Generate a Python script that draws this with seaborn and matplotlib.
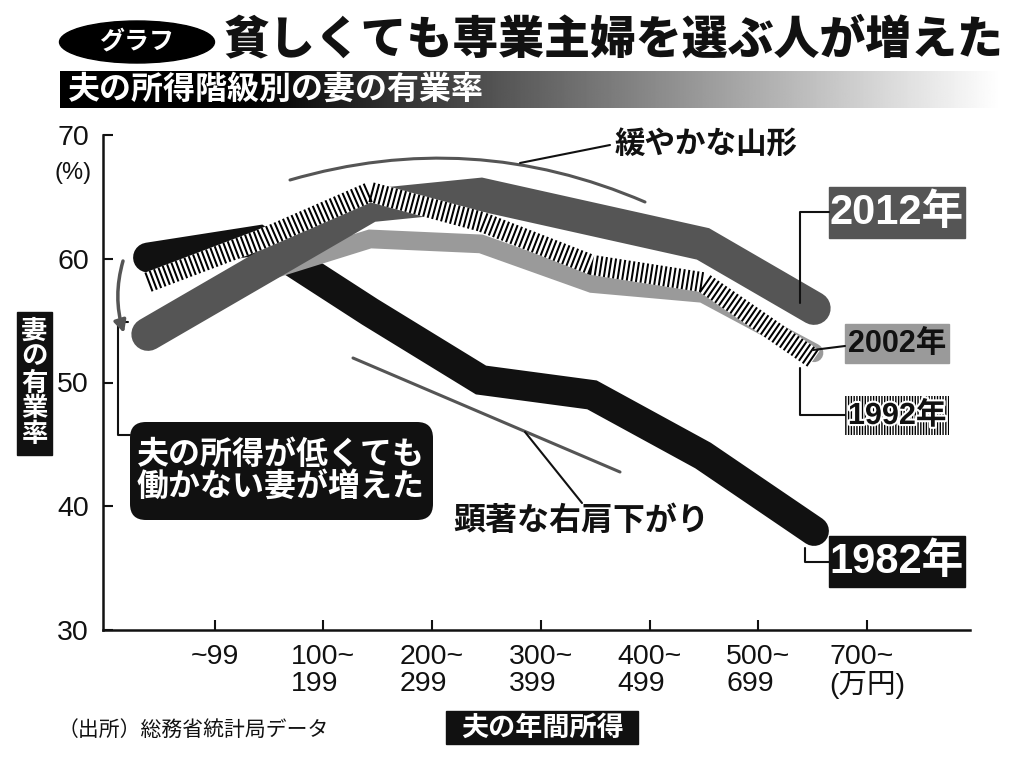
import numpy as np
import pandas as pd
import matplotlib
matplotlib.use("Agg")
import matplotlib.pyplot as plt
import matplotlib.transforms as mtransforms
from matplotlib.patches import FancyBboxPatch, Ellipse, FancyArrowPatch, Rectangle
from matplotlib.lines import Line2D
import matplotlib.patheffects as pe
import seaborn as sns

# ---------------- data ----------------
categories = ["~99", "100~\n199", "200~\n299", "300~\n399", "400~\n499", "500~\n699", "700~\n(万円)"]
y1982 = [60.1, 61.5, 55.7, 50.2, 49.0, 44.1, 38.0]
y1992 = [58.1, 61.5, 65.4, 63.0, 59.5, 58.1, 51.9]
y2002 = [54.4, 58.8, 61.6, 61.2, 58.0, 57.2, 52.4]
y2012 = [53.9, 59.1, 64.3, 65.2, 63.2, 61.2, 56.0]
years = ["1982年", "1992年", "2002年", "2012年"]
yticks = [30, 40, 50, 60, 70]

sns.set_theme(style="ticks")
plt.rcParams['font.family'] = ['Liberation Sans', 'Noto Sans CJK JP', 'DejaVu Sans']
JP = ['Noto Sans CJK JP', 'DejaVu Sans']
NARROW = ['Liberation Sans Narrow', 'Liberation Sans', 'Noto Sans CJK JP']

W, H = 1024, 760
fig = plt.figure(figsize=(W / 100, H / 100), dpi=100)
fig.patch.set_facecolor("white")
# pixel transform (image coords, y downward)
pix = mtransforms.Affine2D().scale(1 / W, -1 / H).translate(0, 1) + fig.transFigure

xs = np.arange(len(categories))
df = pd.DataFrame({
    "pos": np.tile(xs, 4),
    "rate": y1982 + y1992 + y2002 + y2012,
    "year": np.repeat(years, len(categories)),
})

# ---------------- main axes ----------------
ax = fig.add_axes([103 / W, 1 - 630 / H, (970 - 103) / W, (630 - 135) / H])
ax.patch.set_alpha(0)

def sub(y):
    return df[df["year"] == y]

sns.lineplot(data=sub("1982年"), x="pos", y="rate", color="#111111", linewidth=21.5,
             solid_capstyle="round", solid_joinstyle="miter", ax=ax, legend=False, zorder=2)
sns.lineplot(data=sub("2002年"), x="pos", y="rate", color="#9a9a9a", linewidth=13.5,
             solid_capstyle="round", solid_joinstyle="miter", ax=ax, legend=False, zorder=3)
sns.lineplot(data=sub("2012年"), x="pos", y="rate", color="#555555", linewidth=24,
             solid_capstyle="round", solid_joinstyle="miter", ax=ax, legend=False, zorder=4)
sns.lineplot(data=sub("1992年"), x="pos", y="rate", color="white", linewidth=14.5,
             solid_capstyle="butt", solid_joinstyle="miter", ax=ax, legend=False, zorder=5)
sns.lineplot(data=sub("1992年"), x="pos", y="rate", color="black", linewidth=14.5,
             linestyle=(0, (0.1, 0.13)), dash_capstyle="butt", dash_joinstyle="miter",
             ax=ax, legend=False, zorder=6)

ax.set_xlim((103 - 148) / 111, (970 - 148) / 111)
ax.set_ylim(30, 70)
ax.set_xticks(0.6 + 0.98 * xs)
ax.set_xticklabels(categories)
ax.set_yticks(yticks)
ax.set_xlabel("")
ax.set_ylabel("")
ax.tick_params(direction="in", length=7, width=1.5, labelsize=20.5, colors="#111111", pad=10)
for lbl in ax.get_xticklabels():
    lbl.set_multialignment("left")
    lbl.set_linespacing(1.05)
for s in ["top", "right"]:
    ax.spines[s].set_visible(False)
for s in ["left", "bottom"]:
    ax.spines[s].set_linewidth(1.8)
    ax.spines[s].set_color("#111111")

# ---------------- header ----------------
fig.add_artist(Ellipse((137, 42), 155, 42, transform=pix, color="black"))
fig.text(137, 42, "グラフ", transform=pix, ha="center", va="center", color="white",
         fontsize=18, fontweight="bold", family=JP, style="italic")
fig.text(224, 40, "貧しくても専業主婦を選ぶ人が増えた", transform=pix, ha="left", va="center",
         color="#111111", fontsize=33, fontweight="black", family=JP)

gax = fig.add_axes([60 / W, 1 - 108 / H, 940 / W, 37 / H])
xg = np.linspace(0, 1, 600)
g = np.clip((xg - 0.2) / 0.8, 0, 1)
gax.imshow(g[None, :], aspect="auto", cmap="gray", vmin=0, vmax=1, extent=[0, 1, 0, 1])
gax.axis("off")
fig.text(68, 90, "夫の所得階級別の妻の有業率", transform=pix, ha="left", va="center",
         color="white", fontsize=23, fontweight="bold", family=JP)

# ---------------- axis decorations ----------------
fig.text(73, 173, "(%)", transform=pix, ha="center", va="center", fontsize=17, color="#111111")
fig.add_artist(Rectangle((17, 312), 35, 143, transform=pix, color="#111111"))
fig.text(34.5, 383, "妻\nの\n有\n業\n率", transform=pix, ha="center", va="center",
         color="white", fontsize=19, fontweight="bold", family=JP, linespacing=0.95)

fig.add_artist(Rectangle((446, 711), 192, 33, transform=pix, color="#111111"))
fig.text(542, 728, "夫の年間所得", transform=pix, ha="center", va="center",
         color="white", fontsize=19.5, fontweight="bold", family=JP)
fig.text(58, 730, "（出所）総務省統計局データ", transform=pix, ha="left", va="center",
         color="#111111", fontsize=15, family=JP)

# ---------------- annotations ----------------
def seg(xx, yy, color="#111111", lw=1.5):
    fig.add_artist(Line2D(xx, yy, transform=pix, color=color, lw=lw, zorder=7))

# arc "緩やかな山形"
fig.add_artist(FancyArrowPatch((290, 180), (645, 202), transform=pix, arrowstyle="-",
                               connectionstyle="arc3,rad=-0.18", color="#555555", lw=2.2,
                               shrinkA=0, shrinkB=0, zorder=7))
seg([520, 610], [163, 145])
fig.text(615, 144, "緩やかな山形", transform=pix, ha="left", va="center",
         color="#111111", fontsize=22, fontweight="bold", family=JP)

# "顕著な右肩下がり"
seg([353, 620], [358, 472], color="#555555", lw=2.2)
seg([525, 582], [432, 503])
fig.text(453, 521, "顕著な右肩下がり", transform=pix, ha="left", va="center",
         color="#111111", fontsize=23, fontweight="bold", family=JP)

# message box
fig.add_artist(FancyBboxPatch((130, 422), 303, 98, transform=pix,
                              boxstyle="round,pad=0,rounding_size=16", fc="#111111", ec="none", zorder=6))
fig.text(281, 471, "夫の所得が低くても\n働かない妻が増えた", transform=pix, ha="center", va="center",
         color="white", fontsize=23, fontweight="bold", family=JP, linespacing=1.0, zorder=8)
seg([128, 118, 118, 130], [322, 322, 435, 435])
fig.add_artist(FancyArrowPatch((123, 261), (124, 333), transform=pix, arrowstyle="-|>",
                               connectionstyle="arc3,rad=0.15", color="#555555", lw=2.5,
                               mutation_scale=18, shrinkA=0, shrinkB=0, zorder=7))

# year labels
fig.add_artist(Rectangle((829, 187), 136, 51, transform=pix, color="#555555", zorder=6))
fig.text(897, 213, "2012年", transform=pix, ha="center", va="center", color="white",
         fontsize=30, fontweight="bold", family=NARROW, zorder=8)
seg([800, 800, 829], [303, 212, 212])

fig.add_artist(Rectangle((845, 324), 104, 39, transform=pix, color="#9a9a9a", zorder=6))
fig.text(897, 344, "2002年", transform=pix, ha="center", va="center", color="#111111",
         fontsize=22, fontweight="bold", family=NARROW, zorder=8)
seg([813, 845], [350, 346])

fig.add_artist(Rectangle((845, 396), 104, 39, transform=pix, fc="white", ec="black", lw=0,
                         hatch="||||||", zorder=6))
fig.text(897, 416, "1992年", transform=pix, ha="center", va="center", color="#111111",
         fontsize=22, fontweight="bold", family=NARROW, zorder=8,
         path_effects=[pe.withStroke(linewidth=3, foreground="white")])
seg([800, 800, 845], [368, 415, 415])

fig.add_artist(Rectangle((829, 536), 136, 51, transform=pix, color="#111111", zorder=6))
fig.text(897, 562, "1982年", transform=pix, ha="center", va="center", color="white",
         fontsize=30, fontweight="bold", family=NARROW, zorder=8)
seg([805, 805, 829], [548, 562, 562])

fig.savefig("out.png", dpi=100)
